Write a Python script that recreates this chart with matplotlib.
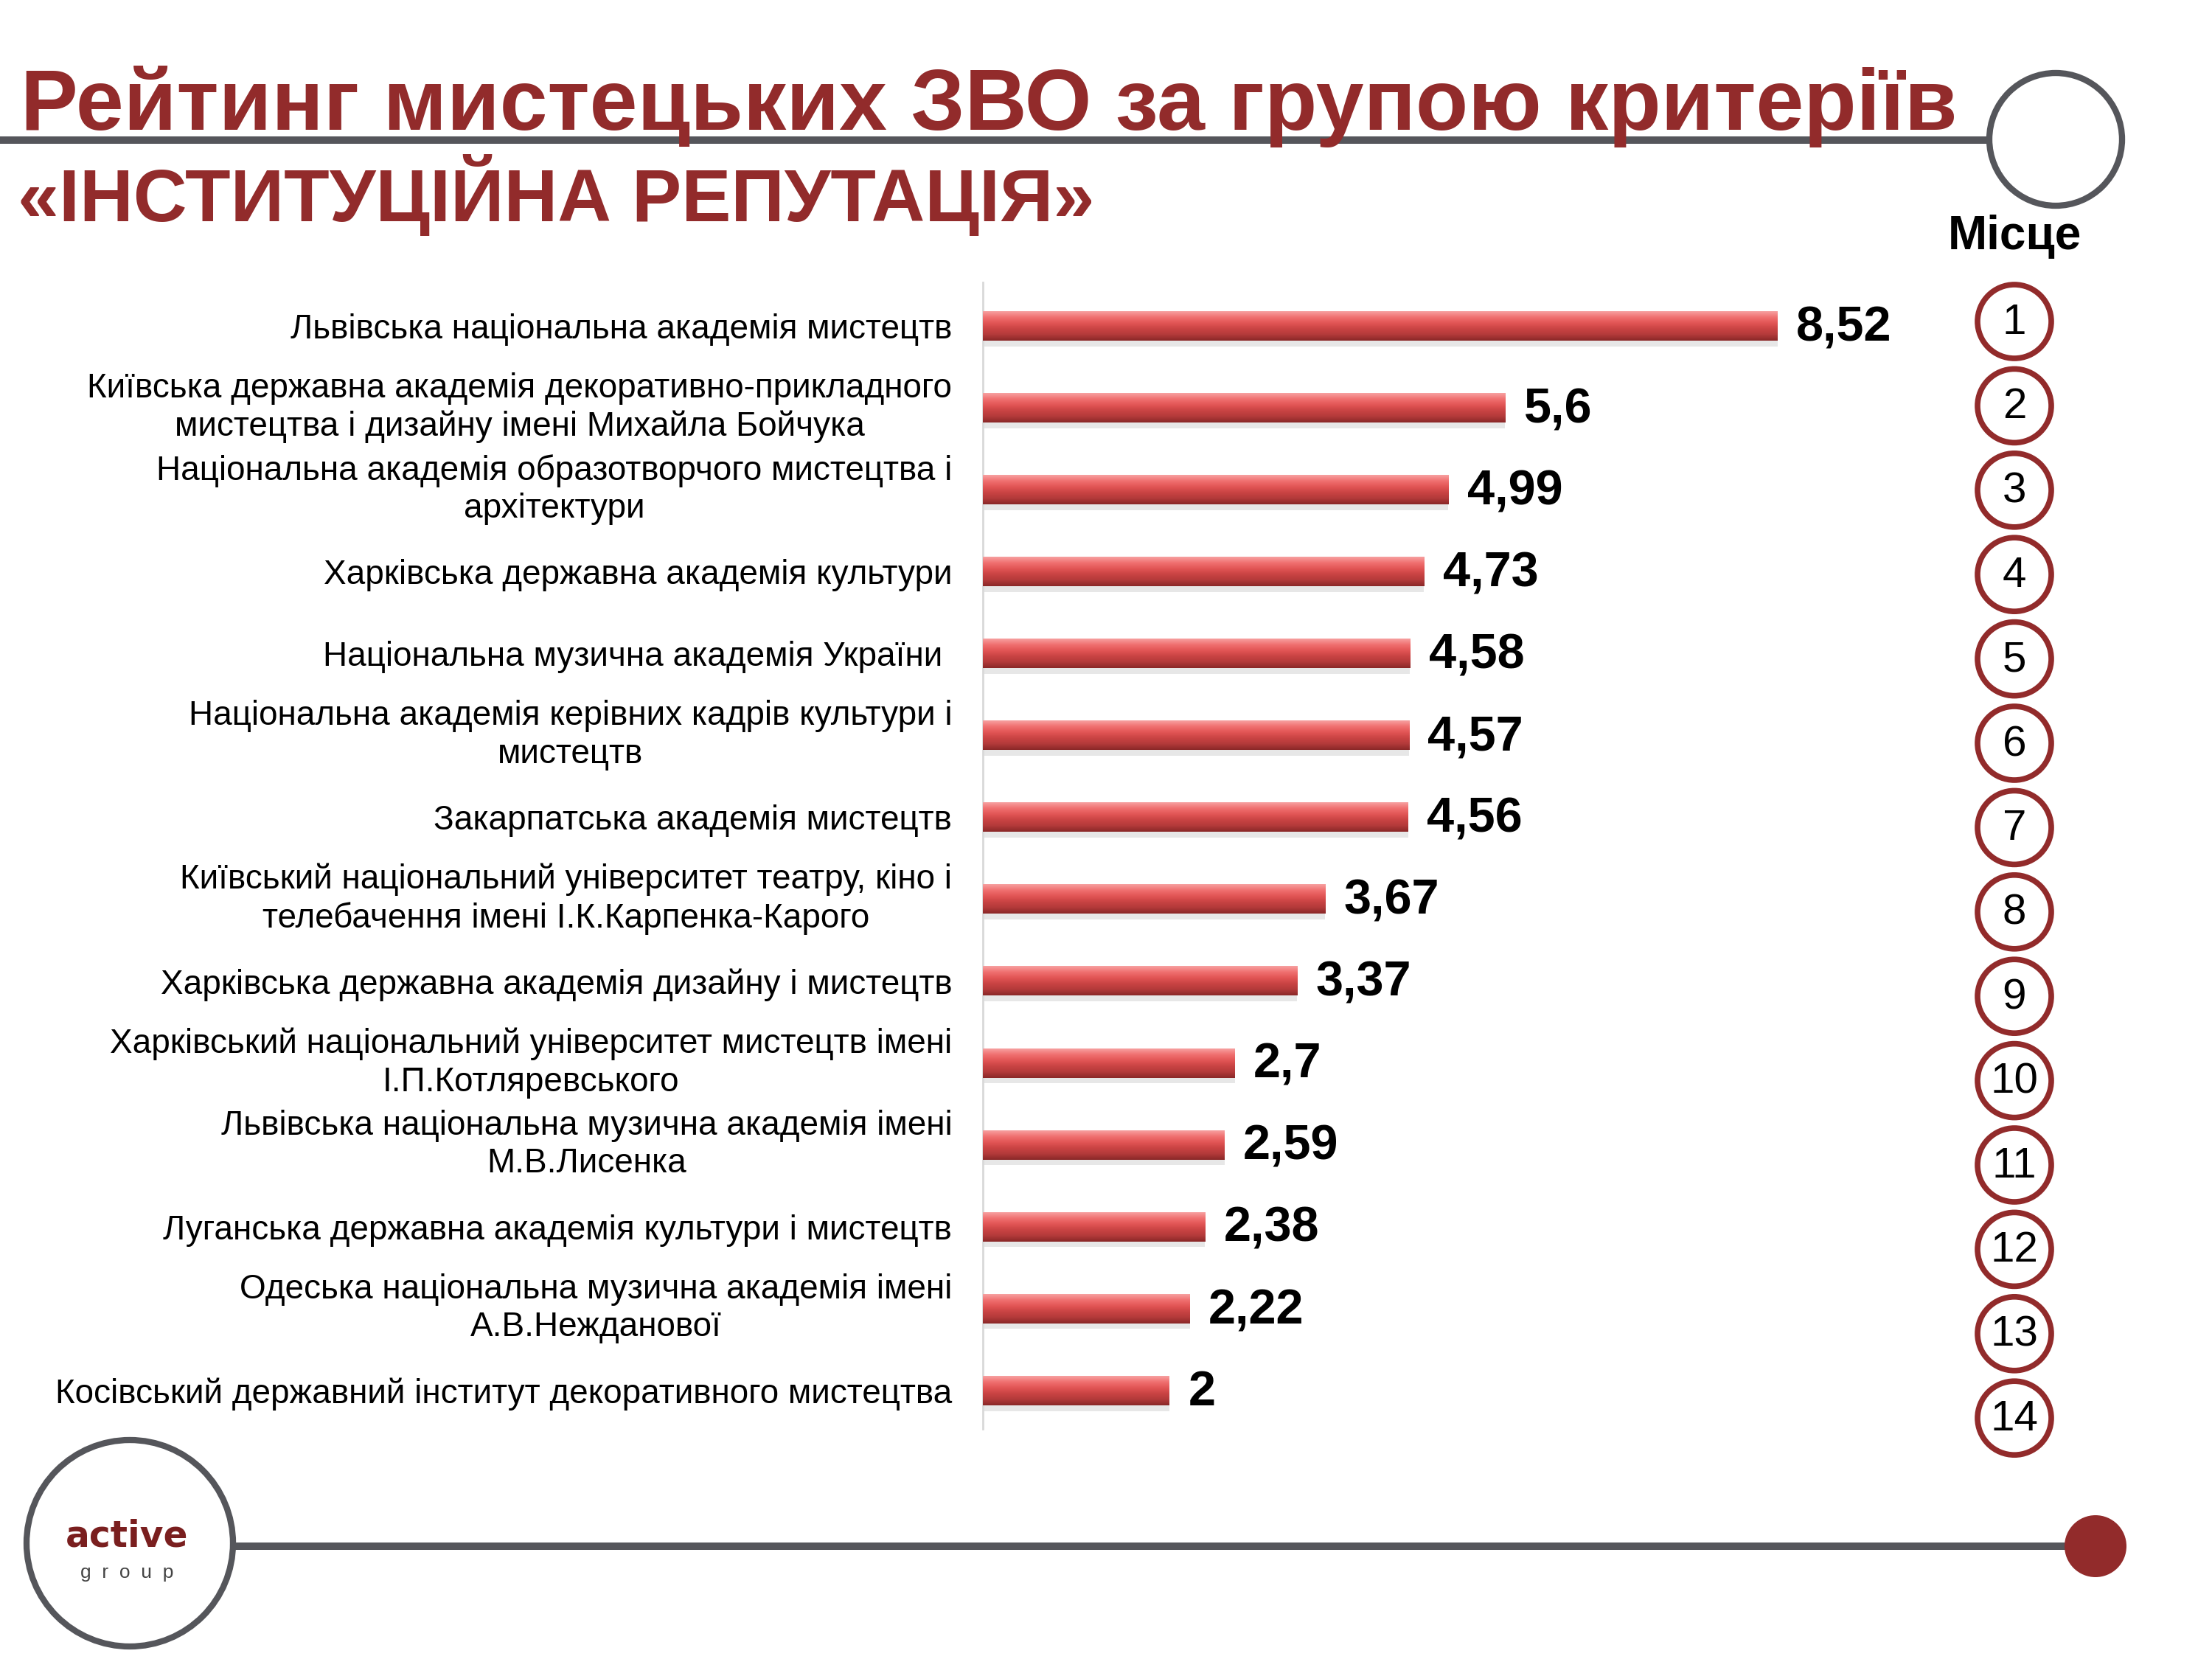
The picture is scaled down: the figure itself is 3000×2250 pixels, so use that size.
import matplotlib
matplotlib.use("Agg")
import matplotlib.pyplot as plt
from matplotlib.patches import Circle, Rectangle
from matplotlib.colors import LinearSegmentedColormap
import numpy as np

plt.rcParams['font.family'] = ['Liberation Sans', 'DejaVu Sans']

# data
names = [
    "Львівська національна академія мистецтв",
    "Київська державна академія декоративно-прикладного\nмистецтва і дизайну імені Михайла Бойчука",
    "Національна академія образотворчого мистецтва і\nархітектури",
    "Харківська державна академія культури",
    "Національна музична академія України ",
    "Національна академія керівних кадрів культури і\nмистецтв",
    "Закарпатська академія мистецтв",
    "Київський національний університет театру, кіно і\nтелебачення імені І.К.Карпенка-Карого",
    "Харківська державна академія дизайну і мистецтв",
    "Харківський національний університет мистецтв імені\nІ.П.Котляревського",
    "Львівська національна музична академія імені\nМ.В.Лисенка",
    "Луганська державна академія культури і мистецтв",
    "Одеська національна музична академія імені\nА.В.Нежданової",
    "Косівський державний інститут декоративного мистецтва",
]
scores = [8.52, 5.6, 4.99, 4.73, 4.58, 4.57, 4.56, 3.67, 3.37, 2.7, 2.59, 2.38, 2.22, 2]
ranks = list(range(1, len(scores) + 1))

title1 = "Рейтинг мистецьких ЗВО за групою критеріїв"
title2 = "«ІНСТИТУЦІЙНА РЕПУТАЦІЯ»"
place_label = "Місце"

RED = "#922b2b"
GRAY = "#55565b"
W, H = 3000, 2250

fig = plt.figure(figsize=(30, 22.5), dpi=100)

def fx(px):
    return px / W

def fy(py):
    return 1 - py / H

# decorations in pixel-like coords
deco = fig.add_axes([0, 0, 1, 1])
deco.set_xlim(0, W)
deco.set_ylim(H, 0)
deco.axis("off")
deco.set_zorder(-1)

# top line + circle
deco.add_patch(Rectangle((0, 185), 2700, 10, color=GRAY, lw=0))
deco.add_patch(Circle((2788, 189), 90, fill=False, ec=GRAY, lw=6))
# bottom line + circles
deco.add_patch(Rectangle((316, 2092), 2490, 10, color=GRAY, lw=0))
deco.add_patch(Circle((176, 2093), 140, fill=True, fc="white", ec=GRAY, lw=6))
deco.add_patch(Circle((2842, 2097), 42, color=RED, lw=0))
deco.text(172, 2098, "active", fontsize=35, fontweight="bold", color="#7a1f1f",
          ha="center", va="baseline", family=["DejaVu Sans"])
deco.text(172, 2140, "g  r  o  u  p", fontsize=19, color="#444444", ha="center",
          va="baseline")

fig.text(fx(28), fy(176), title1, fontsize=84, fontweight="bold", color=RED,
         ha="left", va="baseline")
fig.text(fx(24), fy(300), title2, fontsize=72.5, fontweight="bold", color=RED,
         ha="left", va="baseline")
fig.text(fx(2732), fy(320), place_label, fontsize=46, fontweight="bold",
         color="black", ha="center", va="center")

# rank circles
for i, r in enumerate(ranks):
    cy = 436 + i * 114.4
    deco.add_patch(Circle((2732, cy), 50, fill=False, ec=RED, lw=5.5))
    deco.text(2732, cy + 2, str(r), fontsize=42, color="black",
              ha="center", va="center")

# main bar chart
ax = fig.add_axes([1333 / W, 1 - 1938 / H, 1265 / W, 1555 / H])
n = len(scores)
ypos = np.arange(n)
bh = 0.36

cmap = LinearSegmentedColormap.from_list(
    "bar", ["#f7a0a0", "#f07070", "#e25555", "#c94343", "#b33a3a", "#8a2828"])
grad = np.linspace(0, 1, 64).reshape(-1, 1)

# shadow
ax.barh(ypos + 0.07, scores, height=bh, color="#bbbbbb", alpha=0.35, lw=0,
        zorder=1)
bars = ax.barh(ypos, scores, height=bh, color="#d04848", lw=0, zorder=2)
for b, v, y in zip(bars, scores, ypos):
    im = ax.imshow(grad, cmap=cmap, aspect="auto", zorder=3,
                   extent=(0, v, y + bh / 2, y - bh / 2), interpolation="bicubic")
    im.set_clip_path(b)
    ax.text(v + 0.2, y + 0.03, f"{v:g}".replace(".", ","), fontsize=48,
            fontweight="bold", ha="left", va="center", zorder=4)

ax.set_xlim(0, 10)
ax.set_ylim(n - 0.53, -0.53)
ax.set_yticks(ypos)
ax.set_yticklabels(names, fontsize=33, multialignment="center", linespacing=1.22)
for lab in ax.get_yticklabels():
    if "\n" in lab.get_text():
        lab.set_va("center")
ax.tick_params(axis="y", length=0, pad=30)
ax.set_xticks([])
for s in ["top", "right", "bottom"]:
    ax.spines[s].set_visible(False)
ax.spines["left"].set_color("#d9d9d9")
ax.spines["left"].set_linewidth(2)
ax.patch.set_alpha(0)

fig.savefig("out.png", dpi=100)
